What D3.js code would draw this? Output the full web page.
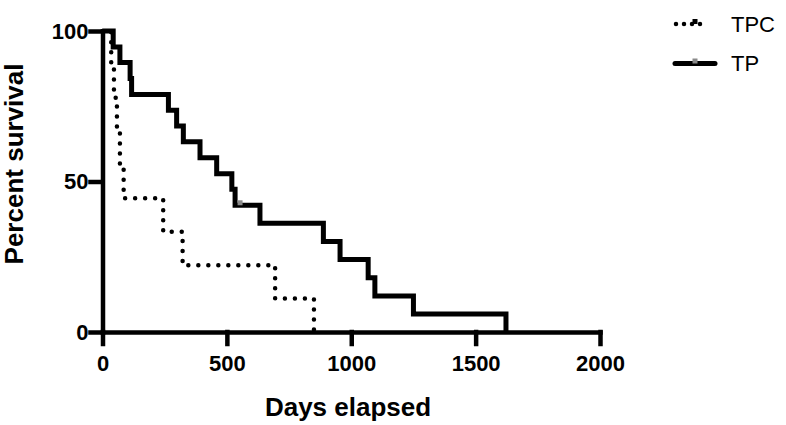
<!DOCTYPE html>
<html lang="en">
<head>
    <meta charset="utf-8">
    <title>Percent survival</title>
    <script src="https://cdn.jsdelivr.net/npm/d3@7"></script>
    <style>
        body { margin: 0; background: #fff; }
        text { font-family: Arial, "Liberation Sans", sans-serif; fill: #000; }
    </style>
</head>
<body>
<script>
    // Kaplan-Meier steps
    var seriesNames = ["TPC", "TP"];
    var tpcDays = [0, 35, 46, 58, 70, 85, 244, 322, 694, 850];
    var tpcSurvival = [100, 88.9, 77.8, 66.7, 55.6, 44.4, 33.3, 22.2, 11.1, 0];
    var tpDays = [0, 43, 70, 111, 117, 265, 298, 325, 392, 459, 520, 533, 633, 888, 955, 1068, 1095, 1250, 1622];
    var tpSurvival = [100, 94.7, 89.5, 84.2, 78.9, 73.7, 68.4, 63.2, 57.9, 52.6, 47.4, 42.1, 36.1, 30.1, 24.1, 18.0, 12.0, 6.0, 0];
    var tpCensorDays = [553];
    var tpCensorSurvival = [42.1];
    var xTicks = [0, 500, 1000, 1500, 2000];
    var yTicks = [0, 50, 100];

    var w = 786, h = 425;
    var svg = d3.select("body").append("svg")
            .attr("width", w)
            .attr("height", h);

    var x = d3.scaleLinear().domain([0, 2000]).range([102.5, 600]);
    var y = d3.scaleLinear().domain([0, 100]).range([332, 31]);

    var line = d3.line()
            .x(function(d) { return x(d[0]); })
            .y(function(d) { return y(d[1]); })
            .curve(d3.curveStepAfter);

    var tpc = d3.zip(tpcDays, tpcSurvival);
    var tp = d3.zip(tpDays, tpSurvival);

    // axes
    var xAxis = svg.append("g")
            .attr("transform", "translate(0," + y(0) + ")")
            .call(d3.axisBottom(x).tickValues(xTicks).tickFormat(d3.format("d"))
                .tickSize(12).tickSizeOuter(0).tickPadding(6));
    var yAxis = svg.append("g")
            .attr("transform", "translate(" + x(0) + ",0)")
            .call(d3.axisLeft(y).tickValues(yTicks).tickFormat(d3.format("d"))
                .tickSize(12).tickSizeOuter(0).tickPadding(2));

    [xAxis, yAxis].forEach(function(g) {
        g.selectAll("path, line")
                .attr("stroke", "#000")
                .attr("stroke-width", 4.5)
                .attr("stroke-linecap", "square");
        g.selectAll("text")
                .attr("font-size", "22px")
                .attr("font-weight", "bold")
                .attr("fill", "#000");
    });
    xAxis.selectAll("text").attr("dy", "0.95em");

    // curves
    svg.append("path")
            .datum(tpc)
            .attr("d", line)
            .attr("fill", "none")
            .attr("stroke", "#000")
            .attr("stroke-width", 4.5)
            .attr("stroke-linecap", "round")
            .attr("stroke-dasharray", "0 10");

    svg.append("path")
            .datum(tp)
            .attr("d", line)
            .attr("fill", "none")
            .attr("stroke", "#000")
            .attr("stroke-width", 5)
            .attr("stroke-linejoin", "miter");

    svg.selectAll("rect.censor")
            .data(d3.zip(tpCensorDays, tpCensorSurvival))
            .enter()
            .append("rect")
            .attr("class", "censor")
            .attr("x", function(d) { return x(d[0]) - 2.5; })
            .attr("y", function(d) { return y(d[1]) - 5; })
            .attr("width", 5)
            .attr("height", 5)
            .attr("fill", "#8a8a8a");

    // axis titles
    svg.append("text")
            .text("Days elapsed")
            .attr("x", 348)
            .attr("y", 416)
            .attr("text-anchor", "middle")
            .attr("font-size", "26px")
            .attr("font-weight", "bold");

    svg.append("text")
            .text("Percent survival")
            .attr("transform", "translate(23,164) rotate(-90)")
            .attr("text-anchor", "middle")
            .attr("font-size", "26px")
            .attr("font-weight", "bold");

    // legend
    var legend = svg.append("g");
    var rows = legend.selectAll("g")
            .data(seriesNames)
            .enter()
            .append("g")
            .attr("transform", function(d, i) { return "translate(0," + (24 + i * 39.5) + ")"; });

    rows.append("line")
            .attr("x1", function(d, i) { return i === 0 ? 676 : 675; })
            .attr("x2", function(d, i) { return i === 0 ? 708 : 715; })
            .attr("y1", 0)
            .attr("y2", 0)
            .attr("stroke", "#000")
            .attr("stroke-width", function(d, i) { return i === 0 ? 4.5 : 5; })
            .attr("stroke-linecap", "round")
            .attr("stroke-dasharray", function(d, i) { return i === 0 ? "0 8" : null; });

    rows.append("rect")
            .attr("x", 692.5)
            .attr("y", -5)
            .attr("width", 5)
            .attr("height", 5)
            .attr("fill", function(d, i) { return i === 0 ? "#000" : "#8a8a8a"; });

    rows.append("text")
            .text(function(d) { return d; })
            .attr("x", 731)
            .attr("y", 0)
            .attr("dy", "0.36em")
            .attr("font-size", "22px");
</script>
</body>
</html>
